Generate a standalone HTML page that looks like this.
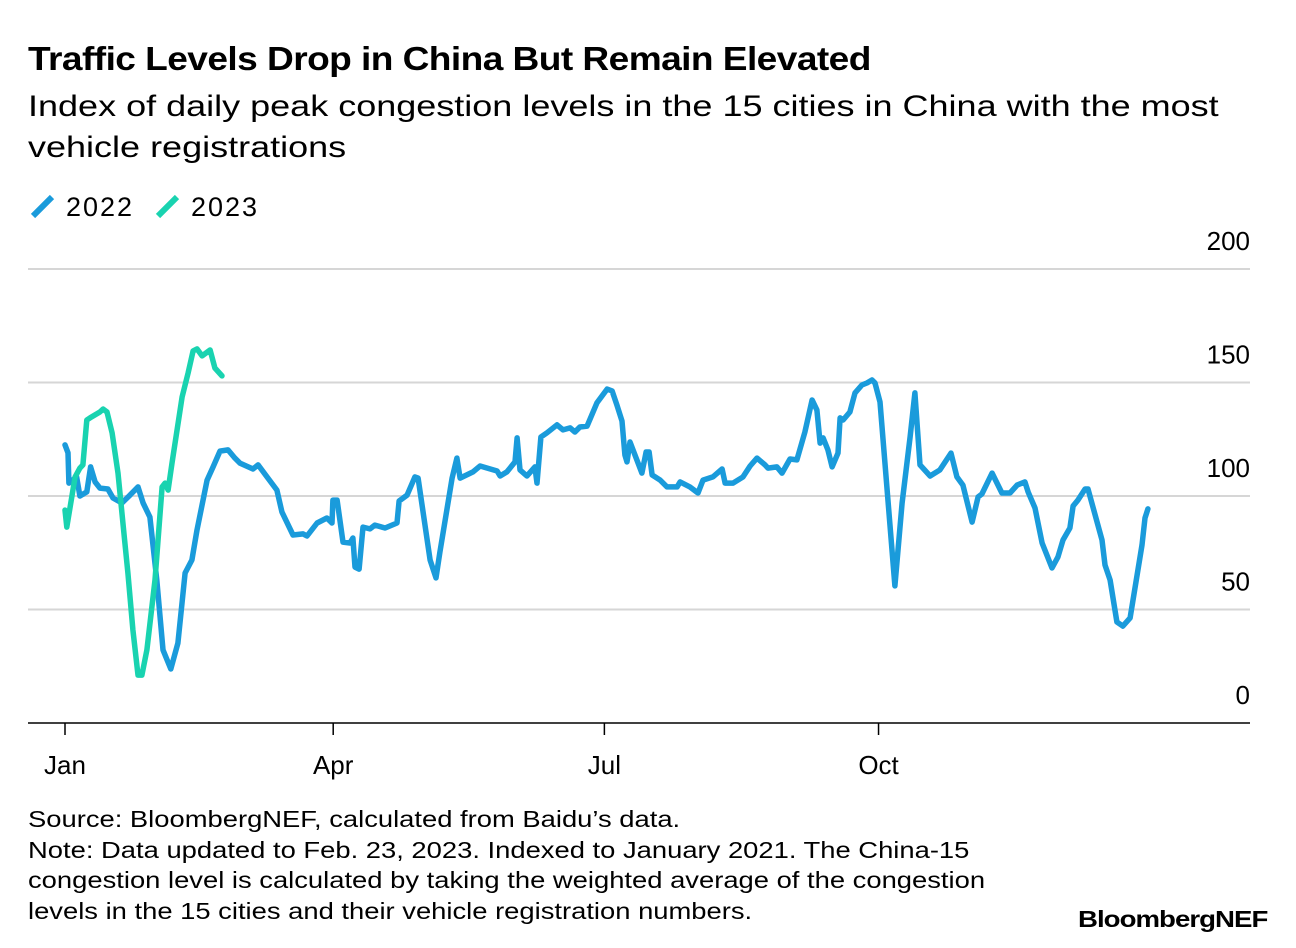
<!DOCTYPE html>
<html><head><meta charset="utf-8"><style>
body{margin:0;background:#fff;width:1296px;height:948px;overflow:hidden;font-family:"Liberation Sans",sans-serif;color:#000}
.t{position:absolute;left:28px;white-space:nowrap;transform-origin:0 0}
</style></head><body>
<div class="t" style="top:40px;font-size:33px;font-weight:bold;letter-spacing:-0.5px;transform:scaleX(1.124)">Traffic Levels Drop in China But Remain Elevated</div>
<div class="t" style="top:86px;font-size:30px;line-height:41px;transform:scaleX(1.2)">Index of daily peak congestion levels in the 15 cities in China with the most<br>vehicle registrations</div>
<svg id="chart" width="1296" height="948" style="position:absolute;left:0;top:0"></svg>
<div class="t" style="top:804px;font-size:23px;line-height:30.5px;transform:scaleX(1.19)">Source: BloombergNEF, calculated from Baidu’s data.<br>Note: Data updated to Feb. 23, 2023. Indexed to January 2021. The China-15<br>congestion level is calculated by taking the weighted average of the congestion<br>levels in the 15 cities and their vehicle registration numbers.</div>
<div style="position:absolute;left:1078px;top:906px;font-size:23px;font-weight:bold;letter-spacing:-0.8px;transform:scaleX(1.2);transform-origin:0 0;white-space:nowrap">BloombergNEF</div>
<script>
const yTicks=[0,50,100,150,200];
const xTickDays=[0,90,181,273];
const xTickLabels=["Jan","Apr","Jul","Oct"];
const seriesNames=["2022","2023"];
const days2022=[0,1,1.3,3.9,5,7.3,8.6,10.1,11.7,14.4,16.1,19.1,21.8,24.5,26.2,28.5,30.8,32.9,35.5,37.9,40.3,42.6,44.3,47.7,49.7,52,54.7,57,58.7,63.1,64.8,67.8,71.1,72.8,76.5,79.9,81.2,84.6,87.9,89.6,89.9,91.3,93.3,95.6,96.6,97.3,98.7,100,102.3,104,107.4,111.4,112.1,114.8,117.4,118.5,122.5,124.5,125.8,129.9,131.5,132.6,136.9,139.3,145,146,148.3,151,151.7,152.7,155,157.7,158.4,159.7,161.7,165.1,167.1,169.5,171.1,172.8,175.2,178.5,181.9,183.6,185.2,186.9,187.9,188.6,189.6,193.6,195,196,197,199.7,202,205.4,206.4,209.7,212.4,214.1,217.4,220.5,221.5,224.2,227.5,229.9,232.2,234.9,235.9,238.9,240.6,243.3,245.6,248.3,250.7,252.3,253.4,254.4,256,257.4,259.4,260.1,261.1,263.4,265.1,267.4,269.1,270.8,271.8,273.5,278.5,280.9,283.6,285.2,286.9,290.3,293.6,297.3,299.3,301.3,304.4,306.4,307.7,311.1,314.4,317.1,319.5,322.1,323.2,325.5,327.9,331.2,333.2,334.9,337.2,338.3,339.9,342.3,343.3,348,349,350.7,353,355,357.4,361.4,362.4,363.4];
const values2022=[122.5,119,105.7,108.4,100,101.8,112.8,106.2,103.5,103.1,99.1,96.9,100.4,104,96.9,90.7,63,32.2,23.8,35.2,66.1,71.8,85,107,112.8,119.8,120.3,116.7,114.5,111.9,113.7,108.4,102.6,93,82.8,83.3,82.4,88.1,90.3,88.1,98.2,98.2,79.7,79.3,81.5,68.7,67.8,86.3,85.5,87.2,85.9,88.1,97.8,100.4,108.4,107.9,71.8,63.9,75.3,107.9,116.7,107.9,110.6,113.2,111,108.8,110.6,115,125.6,111.5,108.8,112.8,105.7,126,127.8,131.3,129.1,130,128.2,130.4,130.8,141,147.1,146.3,140.1,133,118.1,115,123.8,110.1,119.4,119.4,109.3,107,104,104,106.2,104,101.3,107,108.4,111.9,105.7,105.7,108.4,113.2,116.7,113.7,112.3,112.8,110.1,116.3,115.9,128.2,142.3,137.9,123.3,125.6,120.3,112.8,118.9,134.4,133.5,137,145.4,148.9,149.8,151.1,149.8,141.4,60.4,96.9,126,145.4,113.7,108.8,111.5,118.9,108.4,104.8,88.5,99.6,100.9,110.1,101.3,101.3,104.8,106.2,101.8,94.7,79.3,68.3,73.1,80.6,85.9,95.6,98.2,103.1,103.1,80.6,69.6,63,44.5,42.7,46.3,78.4,90.3,94.3];
const days2023=[0,0.6,3.4,5,6,7.3,8.4,11.7,12.8,14.1,15.8,17.8,20.1,21.1,22.8,24.5,25.8,27.5,30.2,32.6,33.6,34.6,35.9,39.3,41.3,43,44.3,46,48.7,50.3,52.7];
const values2023=[93.8,86.3,108.4,112.3,113.7,133.5,134.4,137,138.3,137,127.8,110.1,79.3,66.1,41,21.1,21.1,32.2,63,104,105.7,102.6,114.5,143.6,154.2,163.9,164.8,161.7,164.3,156.4,152.9];

const NS="http://www.w3.org/2000/svg";
const svg=document.getElementById('chart');
const X0=65,PXD=2.98,Y0=723,PXV=2.27;
const xs=d=>X0+d*PXD, ys=v=>Y0-v*PXV;
function mk(tag,attrs){const e=document.createElementNS(NS,tag);for(const k in attrs)e.setAttribute(k,attrs[k]);svg.appendChild(e);return e;}
yTicks.forEach((t,i)=>{
  if(t>0){const g=mk('line',{x1:28,x2:1250,y1:ys(t),y2:ys(t),stroke:'#d6d6d6','stroke-width':2});
  
  }
  const l=mk('text',{x:1250,y:ys(t)-19,'text-anchor':'end','font-size':26,'font-family':'Liberation Sans, sans-serif'});
  l.textContent=t;
  
  
});
const ax=mk('line',{x1:28,x2:1250,y1:Y0,y2:Y0,stroke:'#000','stroke-width':1.5});


xTickDays.forEach((d,i)=>{
  const tk=mk('line',{x1:xs(d),x2:xs(d),y1:Y0,y2:Y0+12,stroke:'#000','stroke-width':1.5});
  
  
  const l=mk('text',{x:xs(d),y:Y0+51,'text-anchor':'middle','font-size':26,'font-family':'Liberation Sans, sans-serif'});
  l.textContent=xTickLabels[i];
  
  
});
const colors=['#1a9bdb','#19d3b0'];
[[days2022,values2022],[days2023,values2023]].forEach((s,i)=>{
  const pts=s[0].map((d,j)=>xs(d).toFixed(1)+','+ys(s[1][j]).toFixed(1)).join(' ');
  const p=mk('polyline',{points:pts,fill:'none',stroke:colors[i],'stroke-width':5.5,'stroke-linejoin':'round','stroke-linecap':'round'});
  
  
  const lx=30+i*125;
  const sw=mk('line',{x1:lx+3,y1:216,x2:lx+22,y2:197,stroke:colors[i],'stroke-width':6});
  
  
  const lt=mk('text',{x:lx+36,y:216,'font-size':27,'font-family':'Liberation Sans, sans-serif','textLength':66});
  lt.textContent=seriesNames[i];
  
  
});
</script>
</body></html>
